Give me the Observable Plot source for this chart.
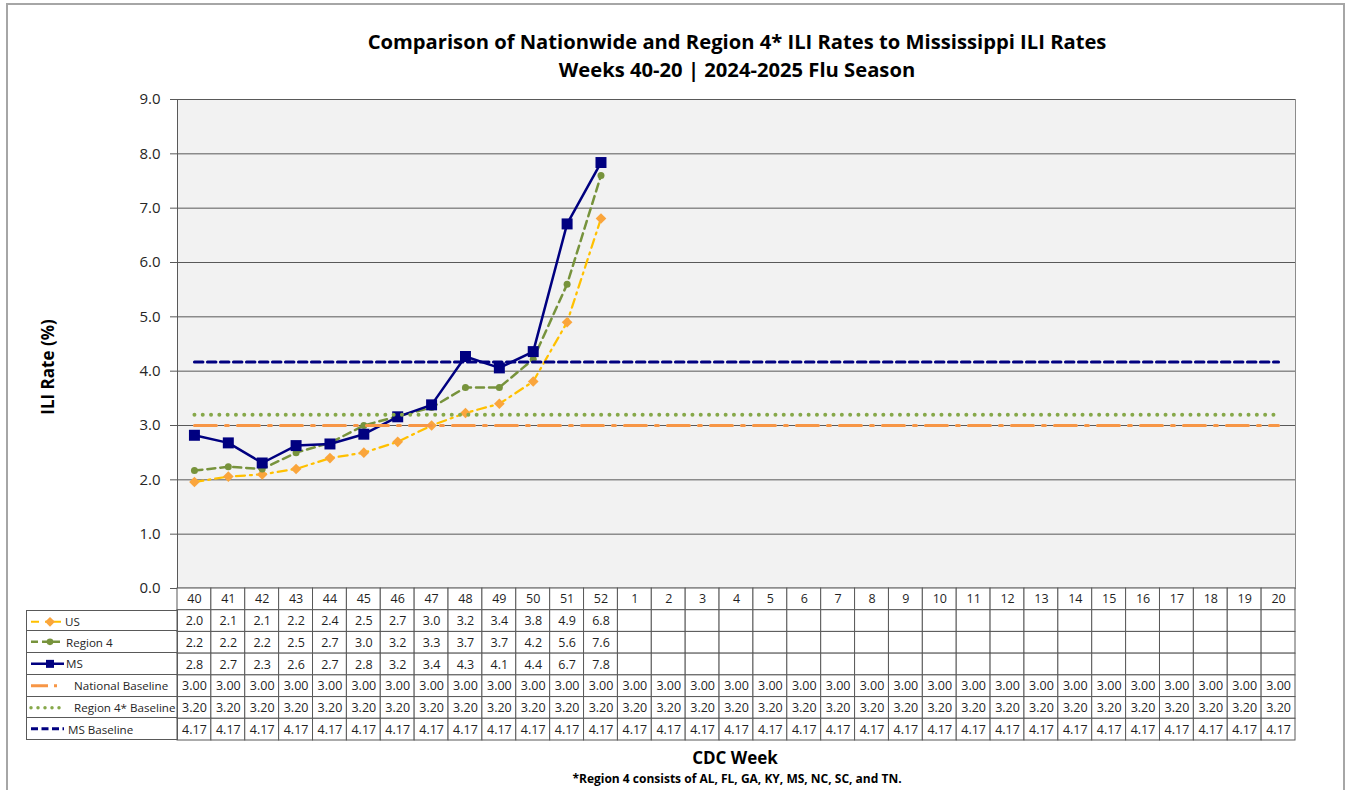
<!DOCTYPE html>
<html>
<head>
<meta charset="utf-8">
<script src="https://cdn.jsdelivr.net/npm/d3@7"></script>
<script src="https://cdn.jsdelivr.net/npm/@observablehq/plot@0.6"></script>
<style>
  html, body { margin: 0; padding: 0; background: #fff; }
  body { width: 1356px; height: 790px; overflow: hidden; font-family: "Open Sans", "Noto Sans", sans-serif; color: #000; }
  #wrap { position: relative; width: 1356px; height: 790px; }
  .abs { position: absolute; }
  #outer { left: 6px; top: 3px; width: 1339px; height: 820px; border: 2px solid #a6a6a6; box-sizing: border-box; }
  #title { left: 137px; top: 27px; width: 1200px; text-align: center; font-weight: 700; font-size: 20.2px; line-height: 28px; }
  #ylab { left: 47px; top: 367px; transform: translate(-50%, -50%) rotate(-90deg); font-weight: 700; font-size: 17px; white-space: nowrap; }
  #xlab { left: 135px; top: 747px; width: 1200px; text-align: center; font-weight: 700; font-size: 17px; line-height: 22px; }
  #foot { left: 137px; top: 771px; width: 1200px; text-align: center; font-weight: 700; font-size: 12px; line-height: 16px; }
  .leg { position: absolute; left: 26px; width: 152px; box-sizing: border-box; border: 1px solid #595959; border-top: none; font-size: 11.6px; color: #262626; white-space: nowrap; }
  .leg svg { position: absolute; left: 2px; top: 0; }
  .leg span { position: absolute; top: 50%; transform: translateY(-50%); }
</style>
</head>
<body>
<div id="wrap">
  <div id="outer" class="abs"></div>
  <div id="title" class="abs">Comparison of Nationwide and Region 4* ILI Rates to Mississippi ILI Rates<br>Weeks 40-20 | 2024-2025 Flu Season</div>
  <div id="chart" class="abs" style="left:0;top:0"></div>
  <div id="table" class="abs" style="left:0;top:588px"></div>
  <div id="legend"></div>
  <div id="ylab" class="abs">ILI Rate (%)</div>
  <div id="xlab" class="abs">CDC Week</div>
  <div id="foot" class="abs">*Region 4 consists of AL, FL, GA, KY, MS, NC, SC, and TN.</div>
</div>
<script>
// ---- Data ----
const weeks = ["40","41","42","43","44","45","46","47","48","49","50","51","52",
  "1","2","3","4","5","6","7","8","9","10","11","12","13","14","15","16","17","18","19","20"];
const usRate      = [1.96, 2.06, 2.10, 2.20, 2.40, 2.50, 2.70, 3.00, 3.23, 3.40, 3.81, 4.90, 6.81];
const region4Rate = [2.17, 2.24, 2.20, 2.50, 2.68, 3.00, 3.17, 3.33, 3.70, 3.70, 4.22, 5.60, 7.60];
const msRate      = [2.82, 2.68, 2.31, 2.63, 2.66, 2.84, 3.16, 3.38, 4.27, 4.06, 4.36, 6.71, 7.84];
const nationalBaseline = 3.00;
const region4Baseline  = 3.20;
const msBaseline       = 4.17;
const rowLabels = ["US", "Region 4", "MS", "National Baseline", "Region 4* Baseline", "MS Baseline"];
const yTicks = [0, 1, 2, 3, 4, 5, 6, 7, 8, 9];

// ---- Styles ----
const C = {
  us: "#FFC000", usMark: "#FAA53C",
  r4: "#77933C",
  ms: "#000080",
  nat: "#F79646",
  r4b: "#86A84A",
  msb: "#000080"
};

const series = [
  {name: "US", values: weeks.map((w, i) => i < usRate.length ? usRate[i] : null), fmt: d3.format(".1f")},
  {name: "Region 4", values: weeks.map((w, i) => i < region4Rate.length ? region4Rate[i] : null), fmt: d3.format(".1f")},
  {name: "MS", values: weeks.map((w, i) => i < msRate.length ? msRate[i] : null), fmt: d3.format(".1f")},
  {name: "National Baseline", values: weeks.map(() => nationalBaseline), fmt: d3.format(".2f")},
  {name: "Region 4* Baseline", values: weeks.map(() => region4Baseline), fmt: d3.format(".2f")},
  {name: "MS Baseline", values: weeks.map(() => msBaseline), fmt: d3.format(".2f")}
];
const toRows = s => weeks.map((w, i) => ({week: w, value: s.values[i]})).filter(d => d.value != null);
const [usD, r4D, msD, natD, r4bD, msbD] = series.map(toRows);

const font = `"Open Sans", "Noto Sans", sans-serif`;

// ---- Main chart ----
const chart = Plot.plot({
  width: 1356, height: 590,
  marginLeft: 177, marginRight: 61, marginTop: 99, marginBottom: 2,
  style: {background: "transparent", fontFamily: font, overflow: "visible"},
  x: {type: "point", domain: weeks, padding: 0.5, round: false, axis: null},
  y: {domain: [0, 9]},
  marks: [
    Plot.frame({fill: "#f2f2f2", stroke: "#8c8c8c"}),
    Plot.gridY(yTicks, {stroke: "#595959", strokeOpacity: 1, strokeWidth: 1}),
    Plot.axisY({ticks: yTicks, tickFormat: d3.format(".1f"), tickSize: 7, tickPadding: 10, fontSize: 15, label: null, stroke: "#595959", color: "#262626"}),
    Plot.frame({anchor: "left", stroke: "#595959"}),
    Plot.ruleY([0], {stroke: "#404040", strokeWidth: 1.5}),
    Plot.line(usD, {x: "week", y: "value", stroke: C.us, strokeWidth: 2.25, strokeDasharray: "9 5 2 5"}),
    Plot.dot(usD, {x: "week", y: "value", symbol: "diamond2", r: 4.8, fill: C.usMark, stroke: null}),
    Plot.line(r4D, {x: "week", y: "value", stroke: C.r4, strokeWidth: 2.5, strokeDasharray: "8 5"}),
    Plot.dot(r4D, {x: "week", y: "value", r: 3.5, fill: C.r4, stroke: null}),
    Plot.line(msD, {x: "week", y: "value", stroke: C.ms, strokeWidth: 2.5}),
    Plot.dot(msD, {x: "week", y: "value", symbol: "square", r: 6.2, fill: C.ms, stroke: null}),
    Plot.line(natD, {x: "week", y: "value", stroke: C.nat, strokeWidth: 3, strokeDasharray: "22 9 3 9"}),
    Plot.line(r4bD, {x: "week", y: "value", stroke: C.r4b, strokeWidth: 4, strokeLinecap: "round", strokeDasharray: "0 8.3"}),
    Plot.line(msbD, {x: "week", y: "value", stroke: C.msb, strokeWidth: 3, strokeDasharray: "8.5 4.5"})
  ]
});
document.getElementById("chart").append(chart);

// ---- Data table ----
const tableRows = ["week", ...rowLabels];
const cells = [];
weeks.forEach(w => cells.push({week: w, row: "week", text: w}));
series.forEach(s => weeks.forEach((w, i) => cells.push({week: w, row: s.name, text: s.values[i] == null ? "" : s.fmt(s.values[i])})));

const table = Plot.plot({
  width: 1356, height: 153,
  marginLeft: 177, marginRight: 61, marginTop: 0, marginBottom: 1,
  style: {background: "transparent", fontFamily: font, overflow: "visible"},
  x: {type: "band", domain: weeks, padding: 0, round: false, axis: null},
  y: {type: "band", domain: tableRows, padding: 0, round: false, axis: null},
  marks: [
    Plot.cell(cells, {x: "week", y: "row", fill: "white", stroke: "#595959", strokeWidth: 1, inset: 0}),
    Plot.text(cells.filter(d => d.text), {x: "week", y: "row", text: "text", fontSize: 12.5, fill: "#1f1f1f"})
  ]
});
document.getElementById("table").append(table);

// ---- Legend keys (first column of the table) ----
const rowH = 152 / 7;
const keys = [
  {stroke: C.us, dash: "8 6 2 6", width: 2, marker: "diamond", mfill: C.usMark, pad: 38},
  {stroke: C.r4, dash: "7 4", width: 2.5, marker: "circle", mfill: C.r4, pad: 39},
  {stroke: C.ms, dash: null, width: 2.5, marker: "square", mfill: C.ms, pad: 39},
  {stroke: C.nat, dash: "17 6 3 20", width: 3, marker: null, pad: 47},
  {stroke: C.r4b, dash: "0 7", width: 3.5, marker: null, cap: "round", pad: 47},
  {stroke: C.msb, dash: "7 3.5", width: 3, marker: null, pad: 41}
];
const legend = document.getElementById("legend");
rowLabels.forEach((label, i) => {
  const k = keys[i];
  const div = document.createElement("div");
  div.className = "leg";
  div.style.top = (588 + rowH * (i + 1)) + "px";
  div.style.height = rowH + "px";
  if (i === 0) div.style.borderTop = "1px solid #595959";
  const h = rowH;
  let m = "";
  if (k.marker === "diamond") m = `<rect x="${21 - 3.5}" y="${h/2 - 3.5}" width="7" height="7" fill="${k.mfill}" transform="rotate(45 21 ${h/2})"/>`;
  if (k.marker === "circle") m = `<circle cx="21" cy="${h/2}" r="3.3" fill="${k.mfill}"/>`;
  if (k.marker === "square") m = `<rect x="17" y="${h/2 - 4}" width="8" height="8" fill="${k.mfill}"/>`;
  div.innerHTML = `<svg width="40" height="${h}"><line x1="2" x2="35" y1="${h/2}" y2="${h/2}" stroke="${k.stroke}" stroke-width="${k.width}" ${k.dash ? `stroke-dasharray="${k.dash}"` : ""} ${k.cap ? `stroke-linecap="${k.cap}"` : ""}/>${m}</svg><span style="left:${k.pad}px">${label}</span>`;
  legend.append(div);
});
</script>
</body>
</html>
